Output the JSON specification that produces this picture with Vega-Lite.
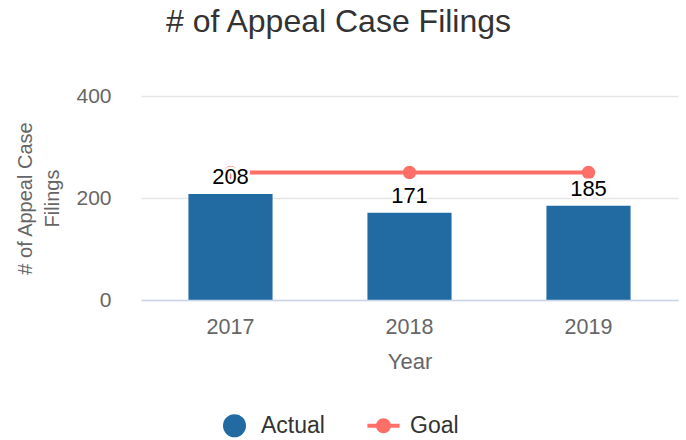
{
  "$schema": "https://vega.github.io/schema/vega-lite/v6.json",
  "autosize": "none",
  "width": 537,
  "height": 204,
  "padding": {"left": 141, "top": 96, "right": 8, "bottom": 140},
  "background": "white",
  "config": {
    "font": "Liberation Sans",
    "view": {"stroke": null},
    "axis": {"labelFont": "Liberation Sans", "titleFont": "Liberation Sans"}
  },
  "title": {
    "text": "# of Appeal Case Filings",
    "fontSize": 32,
    "font": "Liberation Sans",
    "fontWeight": "normal",
    "color": "#333333",
    "anchor": "middle",
    "frame": "group",
    "dx": -71,
    "offset": 46
  },
  "data": {
    "values": [
      {"Year": "2017", "Actual": 208, "Goal": 250},
      {"Year": "2018", "Actual": 171, "Goal": 250},
      {"Year": "2019", "Actual": 185, "Goal": 250}
    ]
  },
  "encoding": {
    "x": {
      "field": "Year",
      "type": "ordinal",
      "scale": {"paddingInner": 0.53, "paddingOuter": 0.265},
      "axis": {
        "labelAngle": 0,
        "labelFontSize": 21.5,
        "labelColor": "#666666",
        "labelPadding": 16,
        "ticks": false,
        "domainColor": "#ccd6eb",
        "domainWidth": 1.5,
        "title": "Year",
        "titleFontSize": 22,
        "titleFontWeight": "normal",
        "titleColor": "#666666",
        "titlePadding": 14,
        "zindex": 1
      }
    }
  },
  "layer": [
    {
      "mark": {"type": "bar", "color": "#226ba2"},
      "encoding": {
        "y": {
          "field": "Actual",
          "type": "quantitative",
          "scale": {"domain": [0, 400], "nice": false},
          "axis": {
            "values": [0, 200, 400],
            "labelFontSize": 21,
            "labelColor": "#666666",
            "labelPadding": 30,
            "ticks": false,
            "domain": false,
            "gridColor": "#e6e6e6",
            "gridWidth": 1.5,
            "title": ["# of Appeal Case", "Filings"],
            "titleFontSize": 20,
            "titleFontWeight": "normal",
            "titleColor": "#666666",
            "titleLineHeight": 27,
            "titlePadding": 13
          }
        },
        "color": {
          "datum": "Actual",
          "type": "nominal",
          "scale": {"domain": ["Actual", "Goal"], "range": ["#226ba2", "#ff6f69"]},
          "legend": {
            "orient": "none",
            "legendX": 82,
            "legendY": 318,
            "direction": "horizontal",
            "title": null,
            "symbolSize": 529,
            "symbolOpacity": 1,
            "symbolStrokeWidth": 0,
            "labelFontSize": 23,
            "labelColor": "#333333",
            "labelOffset": 15,
            "columnPadding": 42,
            "labelFont": "Liberation Sans",
            "encode": {
              "symbols": {
                "update": {
                  "shape": {"signal": "datum.value === 'Goal' ? 'M-1.4,-0.17H1.4V0.17H-1.4Z M0.65,0A0.65,0.65 0 1 1 -0.65,0A0.65,0.65 0 1 1 0.65,0Z' : 'circle'"}
                }
              }
            }
          }
        }
      }
    },
    {
      "mark": {"type": "line", "color": "#ff6f69", "strokeWidth": 4},
      "encoding": {
        "y": {"field": "Goal", "type": "quantitative"},
        "color": {"datum": "Goal", "type": "nominal"}
      }
    },
    {
      "mark": {"type": "point", "filled": true, "opacity": 1, "size": 180, "color": "#ff6f69"},
      "encoding": {
        "y": {"field": "Goal", "type": "quantitative"},
        "color": {"datum": "Goal", "type": "nominal"}
      }
    },
    {
      "mark": {"type": "text", "baseline": "alphabetic", "dy": -10, "fontSize": 22, "stroke": "white", "strokeWidth": 5, "strokeJoin": "round", "fill": "white"},
      "encoding": {
        "y": {"field": "Actual", "type": "quantitative"},
        "text": {"field": "Actual", "type": "quantitative"}
      }
    },
    {
      "mark": {"type": "text", "baseline": "alphabetic", "dy": -10, "fontSize": 22, "color": "black"},
      "encoding": {
        "y": {"field": "Actual", "type": "quantitative"},
        "text": {"field": "Actual", "type": "quantitative"}
      }
    }
  ]
}
